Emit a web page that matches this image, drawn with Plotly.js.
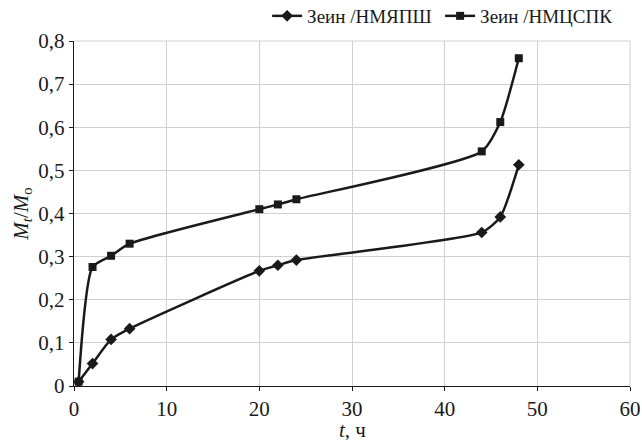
<!DOCTYPE html>
<html><head><meta charset="utf-8">
<script src="https://cdn.plot.ly/plotly-3.0.1.min.js"></script>
<style>body{margin:0;background:#fff}#c{width:642px;height:440px}</style>
</head><body><div id="c"></div>
<script>
const timeH = [0.5, 2, 4, 6, 20, 22, 24, 44, 46, 48];
const seriesNames = ["Зеин /НМЯПШ", "Зеин /НМЦСПК"];
const valsA = [0.01, 0.052, 0.108, 0.133, 0.267, 0.28, 0.292, 0.356, 0.392, 0.513];
const valsB = [0.01, 0.276, 0.302, 0.33, 0.41, 0.421, 0.433, 0.544, 0.612, 0.76];
const xTicks = [0, 10, 20, 30, 40, 50, 60];
const yTicks = [0, 0.1, 0.2, 0.3, 0.4, 0.5, 0.6, 0.7, 0.8];
const yTickText = yTicks.map(v => v === 0 ? "0" : v.toFixed(1).replace(".", ","));
const xTitle = "<i>t</i>, ч";
const ink = "#1a1a1a";
const FAM = "Liberation Serif";
function F(s) { return {family: FAM, size: s, color: ink}; }
const traces = [
  {x: timeH, y: valsA, name: seriesNames[0], mode: "lines+markers",
   line: {color: ink, width: 2.5, shape: "spline", smoothing: 0.6},
   marker: {symbol: "diamond", size: 9, color: ink}},
  {x: timeH, y: valsB, name: seriesNames[1], mode: "lines+markers",
   line: {color: ink, width: 2.5, shape: "spline", smoothing: 0.6},
   marker: {symbol: "square", size: 8, color: ink}}
];
const layout = {
  width: 642, height: 440,
  margin: {l: 74, r: 12, t: 41, b: 54, autoexpand: false},
  paper_bgcolor: "#fff", plot_bgcolor: "#fff",
  font: F(21),
  showlegend: true,
  legend: {orientation: "h", xref: "container", yref: "container",
           x: 0.955, xanchor: "right", y: 1 - 16 / 440, yanchor: "middle",
           font: F(19), tracegroupgap: 0, itemwidth: 30,
           entrywidth: 128, entrywidthmode: "pixels"},
  xaxis: {range: [0, 60], tickvals: xTicks, ticktext: xTicks.map(String),
          showgrid: true, gridcolor: "#d0d0d0", gridwidth: 1,
          showline: true, linecolor: ink, linewidth: 1.2,
          ticks: "outside", ticklen: 4, tickcolor: ink, zeroline: false,
          tickfont: F(21), automargin: false},
  yaxis: {range: [0, 0.8], tickvals: yTicks, ticktext: yTickText,
          showgrid: true, gridcolor: "#d0d0d0", gridwidth: 1,
          showline: true, linecolor: ink, linewidth: 1.2,
          ticks: "outside", ticklen: 4, tickcolor: ink, zeroline: false,
          tickfont: F(21), automargin: false,
          title: {text: "<i>M</i><sub><i>t</i></sub>/<i>M</i><sub>o</sub>", font: F(21), standoff: 4}},
  annotations: [
    {xref: "paper", yref: "paper", x: 0.5, y: 0, xanchor: "center", yanchor: "top",
     yshift: -30, text: xTitle, showarrow: false, font: F(21)}
  ],
  shapes: [
    {type: "line", xref: "paper", yref: "paper", x0: 0, x1: 1, y0: 1, y1: 1, line: {color: "#d0d0d0", width: 1}},
    {type: "line", xref: "paper", yref: "paper", x0: 1, x1: 1, y0: 0, y1: 1, line: {color: "#d0d0d0", width: 1}}
  ]
};
Plotly.newPlot("c", traces, layout, {displayModeBar: false, staticPlot: true});
</script></body></html>
